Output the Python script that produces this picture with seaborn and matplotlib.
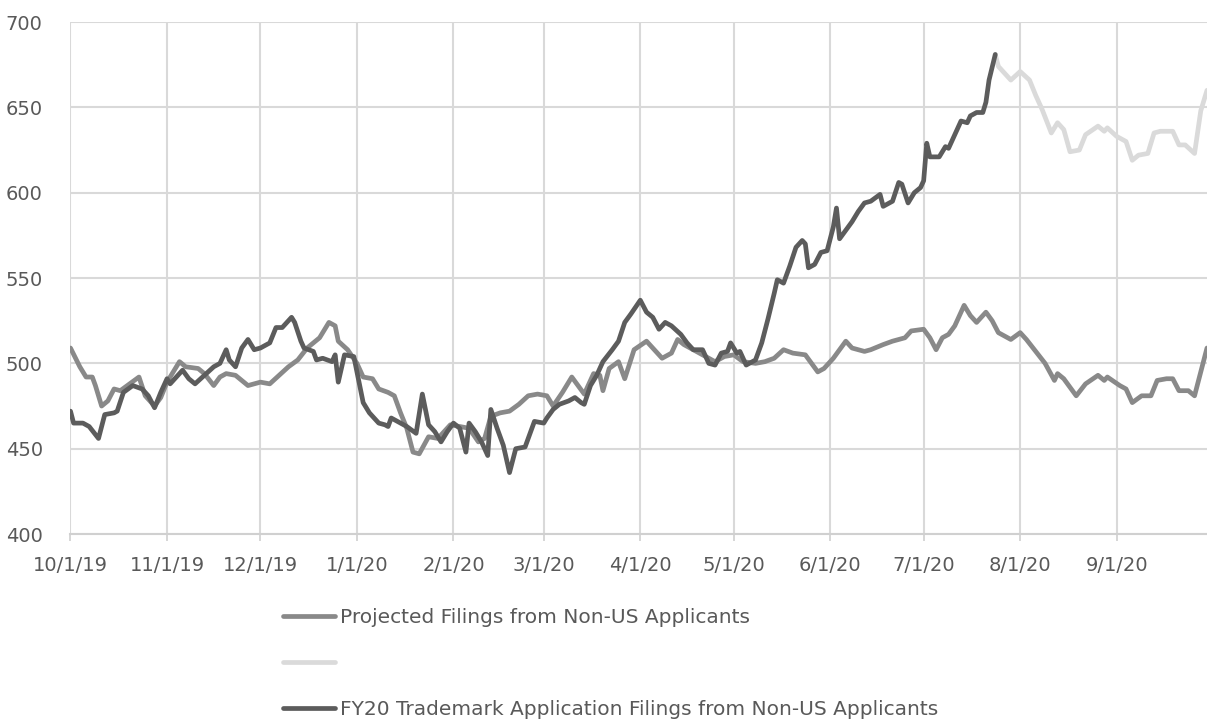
import pandas as pd
import seaborn as sns
import matplotlib.pyplot as plt
import matplotlib.dates as mdates
from matplotlib.ticker import FuncFormatter

# day offsets from 10/1/19 (start of FY20) and the values
START = pd.Timestamp("2019-10-01")

proj_day = [0, 3, 5, 7, 8, 10, 12, 14, 16, 19, 22, 24, 27, 29, 31, 35, 37, 41, 43, 46,
            48, 50, 53, 57, 61, 64, 67, 70, 73, 76, 80, 83, 85, 86, 89, 92, 94, 97, 99, 102,
            104, 106, 108, 110, 112, 115, 118, 120, 122, 125, 128, 131, 133, 135, 138, 141, 144, 147, 150, 153,
            155, 158, 161, 163, 165, 168, 170, 171, 173, 176, 178, 181, 185, 187, 190, 193, 195, 197, 200, 203,
            207, 210, 213, 216, 220, 223, 226, 229, 232, 236, 240, 242, 245, 249, 251, 255, 257, 261, 264, 268,
            270, 274, 276, 278, 280, 282, 284, 287, 289, 291, 294, 296, 298, 302, 305, 307, 310, 313, 316, 317,
            319, 323, 326, 330, 332, 333, 337, 339, 341, 344, 347, 349, 352, 354, 356, 359, 361, 363, 365]
proj_val = [509, 498, 492, 492, 487, 475, 478, 485, 484, 488, 492, 481, 475, 480, 489, 501, 498, 497, 494, 487,
            492, 494, 493, 487, 489, 488, 493, 498, 502, 509, 515, 524, 522, 513, 508, 500, 492, 491, 485, 483,
            481, 471, 462, 448, 447, 457, 456, 460, 464, 463, 462, 454, 456, 469, 471, 472, 476, 481, 482, 481,
            475, 483, 492, 487, 482, 494, 493, 484, 497, 501, 491, 508, 513, 509, 503, 506, 514, 511, 508, 505,
            501, 504, 505, 501, 500, 501, 503, 508, 506, 505, 495, 497, 503, 513, 509, 507, 508, 511, 513, 515,
            519, 520, 515, 508, 515, 517, 522, 534, 528, 524, 530, 525, 518, 514, 518, 514, 507, 500, 490, 494,
            491, 481, 488, 493, 490, 492, 487, 485, 477, 481, 481, 490, 491, 491, 484, 484, 481, 495, 509]

fy20_day = [0, 1, 4, 6, 9, 11, 14, 15, 17, 20, 23, 25, 27, 29, 31, 32, 36, 38, 40, 43,
            46, 48, 50, 51, 53, 55, 57, 59, 61, 64, 66, 68, 71, 72, 74, 75, 78, 79, 81, 84,
            85, 86, 88, 91, 92, 94, 96, 97, 99, 101, 102, 103, 106, 108, 111, 113, 115, 117, 119, 121,
            123, 125, 127, 128, 130, 132, 134, 135, 137, 139, 141, 143, 146, 149, 152, 153, 155, 157, 160, 162,
            164, 165, 167, 169, 171, 174, 176, 178, 180, 183, 185, 187, 189, 191, 193, 196, 198, 200, 203, 205,
            207, 209, 211, 212, 214, 215, 217, 220, 222, 224, 226, 227, 229, 231, 233, 235, 236, 237, 239, 241,
            243, 245, 246, 247, 249, 251, 253, 255, 257, 260, 261, 264, 266, 267, 269, 271, 273, 274, 275, 276,
            279, 281, 282, 284, 286, 288, 289, 291, 293, 294, 295, 297]
fy20_val = [472, 465, 465, 463, 456, 470, 471, 472, 483, 487, 485, 481, 474, 483, 491, 488, 496, 491, 488, 493,
            498, 500, 508, 502, 498, 509, 514, 508, 509, 512, 521, 521, 527, 524, 513, 509, 507, 502, 503, 501,
            505, 489, 505, 504, 495, 477, 471, 469, 465, 464, 463, 468, 465, 463, 459, 482, 464, 460, 454, 460,
            465, 462, 448, 465, 460, 454, 446, 473, 462, 452, 436, 450, 451, 466, 465, 468, 473, 476, 478, 480,
            477, 476, 487, 493, 501, 508, 513, 524, 529, 537, 530, 527, 520, 524, 522, 517, 512, 508, 508, 500,
            499, 506, 507, 512, 506, 507, 499, 502, 512, 526, 541, 549, 547, 557, 568, 572, 570, 556, 558, 565,
            566, 580, 591, 573, 578, 583, 589, 594, 595, 599, 592, 595, 606, 605, 594, 600, 603, 607, 629, 621,
            621, 627, 626, 634, 642, 641, 645, 647, 647, 653, 666, 681]

rest_day = [297, 298, 302, 305, 308, 310, 312, 315, 317, 319, 321, 324, 326, 330, 332, 333, 336, 339, 341, 343,
            346, 348, 350, 354, 356, 358, 361, 363, 365]
rest_val = [681, 674, 666, 671, 666, 657, 649, 635, 641, 637, 624, 625, 634, 639, 636, 638, 633, 630, 619, 622,
            623, 635, 636, 636, 628, 628, 623, 648, 660]

LABEL_PROJ = "Projected Filings from Non-US Applicants"
LABEL_FY20 = "FY20 Trademark Application Filings from Non-US Applicants"


def to_frame(days, values):
    return pd.DataFrame({"date": START + pd.to_timedelta(days, unit="D"), "value": values})


def main():
    sns.set_theme(style="whitegrid")
    plt.rcParams["font.family"] = ["DejaVu Sans"]

    fig = plt.figure(figsize=(12.07, 7.25), dpi=100)
    ax = fig.add_axes([0.0584, 0.2634, 0.9416, 0.7062])

    line_kw = dict(linewidth=3.4, solid_joinstyle="round", solid_capstyle="round")
    sns.lineplot(data=to_frame(proj_day, proj_val), x="date", y="value", ax=ax,
                 color="#898989", **line_kw)
    sns.lineplot(data=to_frame(rest_day, rest_val), x="date", y="value", ax=ax,
                 color="#dadada", **line_kw)
    sns.lineplot(data=to_frame(fy20_day, fy20_val), x="date", y="value", ax=ax,
                 color="#5c5c5c", **line_kw)

    ax.set_xlim(START, pd.Timestamp("2020-09-30"))
    ax.set_ylim(400, 700)
    ax.set_yticks(range(400, 701, 50))
    ax.xaxis.set_major_locator(mdates.MonthLocator())
    ax.xaxis.set_major_formatter(FuncFormatter(
        lambda x, pos: (lambda d: f"{d.month}/{d.day}/{d.year % 100}")(mdates.num2date(x))))
    ax.set_xlabel("")
    ax.set_ylabel("")

    ax.grid(True, color="#d9d9d9", linewidth=1.5)
    for side in ["top", "right", "left"]:
        ax.spines[side].set_visible(False)
    ax.spines["bottom"].set_color("#d0d0d0")
    ax.spines["bottom"].set_linewidth(1.5)
    ax.set_facecolor("white")

    ax.tick_params(axis="y", length=0, pad=20, labelsize=14, labelcolor="#595959")
    ax.tick_params(axis="x", length=5, width=1.2, color="#d0d0d0", pad=11,
                   labelsize=14, labelcolor="#595959", bottom=True)

    handles = ax.get_lines()
    fig.legend([handles[0], handles[1], handles[2]], [LABEL_PROJ, " ", LABEL_FY20],
               loc="upper left", bbox_to_anchor=(0.2345, 0.162), frameon=False,
               fontsize=14.5, labelcolor="#595959", handlelength=2.6, handletextpad=0.25,
               labelspacing=1.35, borderaxespad=0, borderpad=0)

    fig.savefig("out.png", dpi=100, facecolor="white")


if __name__ == "__main__":
    main()
